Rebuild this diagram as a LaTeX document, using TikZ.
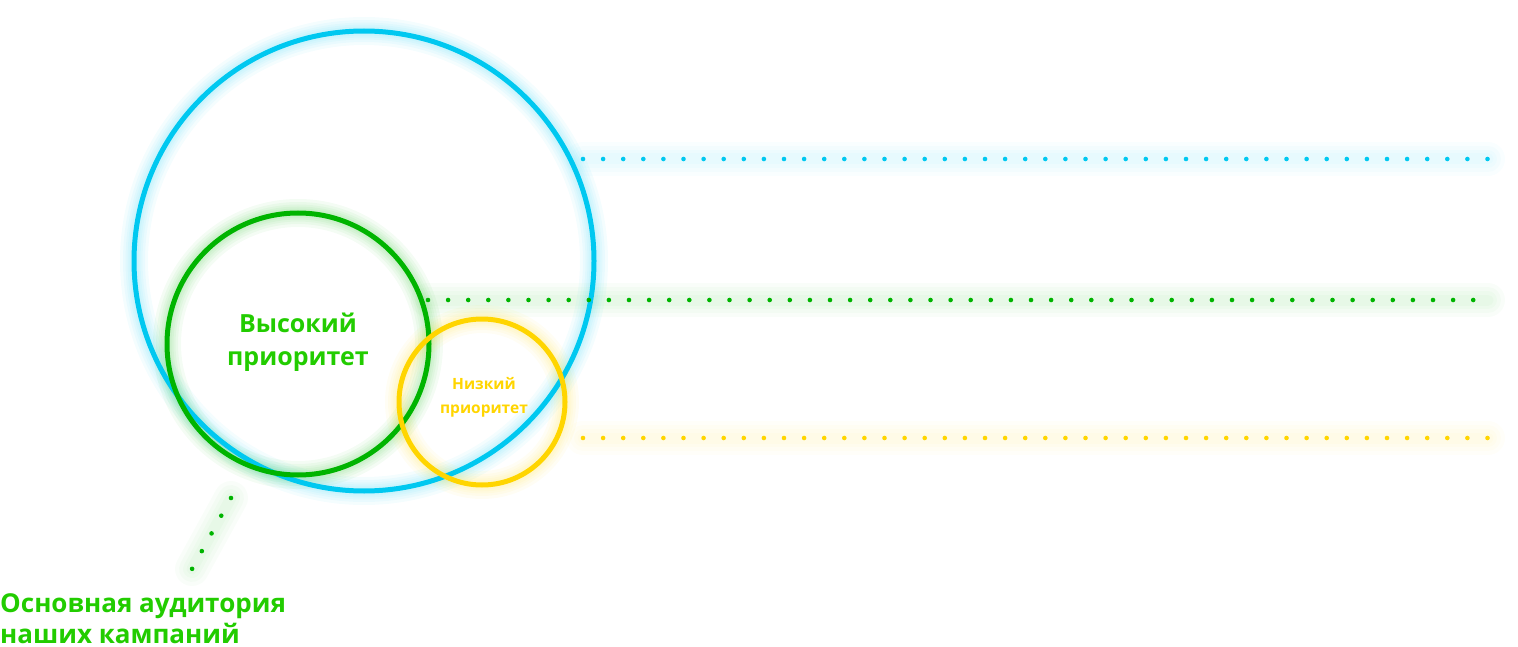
\documentclass[tikz,border=0pt]{standalone}
\usepackage{fontspec}
\setmainfont{Open Sans}
\begin{document}
\begin{tikzpicture}[x=1pt,y=-1pt,
  ring/.style={circle,draw=#1,line width=5pt,inner sep=0pt},
  glow/.style={draw=#1,opacity=0.045},
  dotline/.style={draw=#1,line width=4.6pt,line cap=round,dash pattern=on 0pt off 20.1pt},
  dotglow/.style={draw=#1,opacity=0.025,line cap=round},
  lbl/.style={text=#1,align=center}]
\definecolor{cblue}{HTML}{00C8F0}
\definecolor{cgreen}{HTML}{00B400}
\definecolor{tgreen}{HTML}{22CC00}
\definecolor{cyel}{HTML}{FFD500}
\useasboundingbox (0,0) rectangle (1518,647);
% glows
\foreach \c/\x/\y/\r in {cblue/364/261/230, cgreen/298/344/131, cyel/482/402/83}{
  \foreach \w in {28,22,17,13,9}{
    \draw[glow=\c,line width=\w pt] (\x,\y) circle[radius=\r];
  }
}
\coordinate (b1) at (583,159); \coordinate (b2) at (1488,159);
\coordinate (g1) at (428,300); \coordinate (g2) at (1488,300);
\coordinate (y1) at (583,438); \coordinate (y2) at (1488,438);
\coordinate (d1) at (231,498); \coordinate (d2) at (192,569);
\foreach \a/\b/\c in {b1/b2/cblue, g1/g2/cgreen, y1/y2/cyel, d1/d2/cgreen}{
  \foreach \w in {34,26,18,11}{
    \draw[dotglow=\c,line width=\w pt] (\a) -- (\b);
  }
}
% rings
\node[ring=cblue,minimum size=460pt] (blue) at (364,261) {};
\node[ring=cgreen,minimum size=262pt] (green) at (298,344) {};
\node[ring=cyel,minimum size=166pt] (yel) at (482,402) {};
% dotted lines
\draw[dotline=cblue] (b1) -- (b2);
\draw[dotline=cgreen] (g1) -- (g2);
\draw[dotline=cyel] (y1) -- (y2);
\draw[dotline=cgreen,dash pattern=on 0pt off 20.2pt] (d1) -- (d2);
% labels
\node[lbl=tgreen,font=\bfseries\fontsize{25}{33}\selectfont] (hi) at (298,342) {Высокий\\приоритет};
\node[lbl=cyel,font=\bfseries\fontsize{15.5}{24}\selectfont] (lo) at (484,397) {Низкий\\приоритет};
\node[lbl=tgreen,align=left,anchor=north west,inner sep=0pt,font=\bfseries\fontsize{26}{31}\selectfont] (aud) at (0,593) {Основная аудитория\\наших кампаний};
\end{tikzpicture}
\end{document}
